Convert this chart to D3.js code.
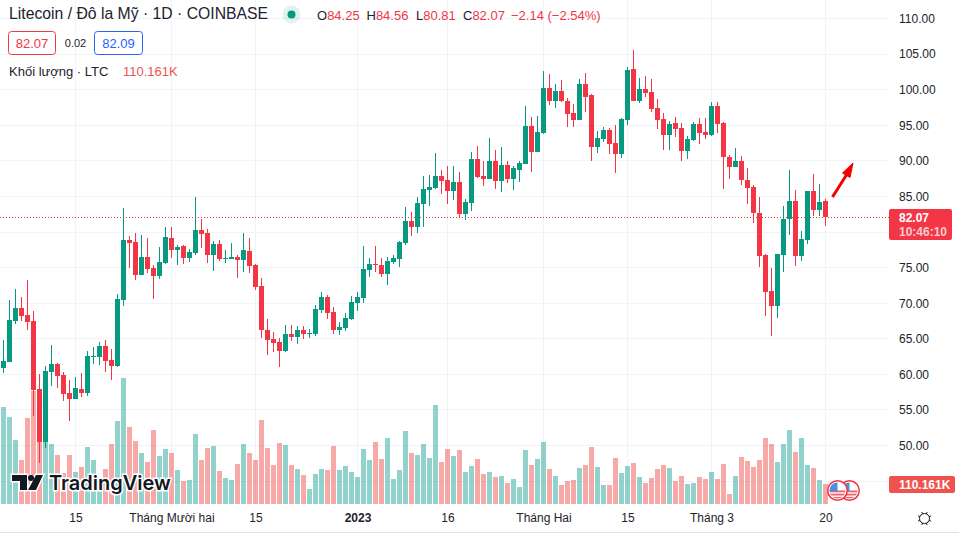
<!DOCTYPE html>
<html><head><meta charset="utf-8">
<script src="https://cdnjs.cloudflare.com/ajax/libs/d3/7.8.5/d3.min.js"></script>
<style>html,body{margin:0;padding:0;background:#fff}svg{display:block}text{font-family:"Liberation Sans",Arial,sans-serif}</style>
</head><body><svg id="c" width="959" height="533"></svg>
<script>
const opens=[60.84,61.68,67.44,69.27,68.29,67.44,57.89,50.44,60.27,61.40,
59.85,57.32,56.48,57.89,57.32,62.38,62.38,63.93,61.96,61.12,
70.39,78.82,78.54,73.90,76.43,74.89,73.76,75.59,79.10,77.42,
77.98,76.29,76.99,80.23,79.80,76.71,78.26,76.15,76.15,76.43,
76.01,77.28,75.31,72.36,66.18,64.91,64.49,63.23,65.61,65.19,
66.18,65.61,65.61,68.99,70.81,68.70,66.18,66.46,67.72,69.97,
70.67,74.61,75.45,75.31,74.04,75.73,76.15,78.40,81.49,80.65,
83.88,85.85,86.13,87.81,87.25,85.71,86.97,82.47,84.02,90.20,
87.81,87.39,89.92,87.11,89.36,87.39,88.66,89.50,94.84,91.18,
93.85,100.18,98.35,99.75,98.35,96.66,95.68,100.74,99.19,91.89,
93.01,94.27,92.45,90.90,95.68,102.84,98.35,100.04,99.61,97.37,
95.82,93.57,95.26,94.56,91.33,92.87,95.12,93.99,93.57,97.65,
95.26,90.48,89.08,89.92,87.25,86.27,82.61,76.71,71.65,69.55,
76.71,81.77,84.30,76.57,78.82,85.70,83.04,84.25];
const highs=[64.77,70.39,71.94,70.81,73.20,68.85,59.99,61.12,64.07,61.54,
60.27,59.15,59.57,60.13,63.23,63.79,64.49,64.77,63.51,71.23,
83.32,79.38,79.80,79.52,79.10,75.31,77.84,80.65,80.65,78.12,
78.12,77.56,84.86,81.77,80.37,78.68,78.82,77.42,78.40,76.71,
79.80,79.10,75.45,73.48,67.72,65.89,65.05,66.88,66.88,66.74,
66.74,66.31,69.69,71.51,71.09,69.41,67.30,68.56,70.95,71.51,
77.98,76.29,77.98,76.29,76.43,76.71,78.68,83.46,82.75,84.86,
87.81,87.95,91.04,88.66,89.22,89.22,88.37,84.58,91.18,92.03,
89.92,93.15,91.47,91.89,89.92,89.22,89.92,97.65,96.10,96.24,
102.56,102.14,100.74,101.30,98.77,97.93,101.44,102.28,99.33,94.13,
94.70,94.56,94.98,95.96,103.13,105.51,101.58,101.86,101.44,98.63,
96.66,95.54,96.10,95.26,93.43,95.40,95.96,95.96,98.21,98.21,
95.40,90.76,91.75,90.62,88.94,86.55,84.86,76.85,74.89,76.85,
83.60,88.66,85.85,80.08,85.70,88.09,86.69,84.56];
const lows=[60.14,61.68,67.02,67.44,66.18,54.10,47.49,49.60,58.31,58.03,
56.20,53.39,56.48,56.76,56.90,61.40,61.26,60.27,59.15,60.98,
69.55,74.89,73.20,73.90,74.19,70.53,73.34,75.45,76.29,75.31,
75.45,75.73,76.71,77.70,75.59,74.47,75.87,75.59,76.15,73.48,
74.33,74.19,71.80,65.05,62.66,63.09,60.98,63.09,64.63,64.21,
64.91,65.05,65.33,68.56,67.72,65.61,65.47,66.03,67.58,68.84,
69.97,73.62,74.33,73.62,72.50,75.45,75.03,78.12,79.38,79.80,
80.65,83.60,85.99,85.28,83.88,84.44,81.91,81.63,82.89,87.53,
86.41,87.39,85.99,85.56,86.83,85.85,86.97,89.50,88.37,91.18,
93.71,97.79,97.37,98.21,94.70,94.70,95.68,96.80,89.92,91.04,
92.59,90.90,88.23,90.34,94.98,98.35,98.07,98.91,96.80,94.41,
91.47,91.47,93.29,89.92,90.20,92.73,92.31,93.01,93.43,93.85,
85.99,87.39,89.08,86.55,83.88,81.21,75.03,68.14,65.33,67.86,
74.33,79.52,75.17,75.87,78.26,82.19,82.19,80.81];
const closes=[61.82,67.58,69.27,68.15,67.30,57.75,50.44,60.41,61.40,59.71,
57.18,56.48,58.03,57.32,62.52,62.52,63.93,61.82,61.12,70.53,
78.82,78.40,73.90,76.43,74.75,73.76,75.73,79.24,77.42,77.84,
76.29,77.14,80.23,79.66,76.71,78.26,76.15,76.29,76.43,76.01,
77.42,75.17,72.22,66.18,64.77,64.35,63.23,65.61,65.19,66.18,
65.61,65.75,69.13,70.81,68.56,66.18,66.60,67.86,70.11,70.81,
74.75,75.45,75.31,74.04,75.87,76.29,78.54,81.49,80.65,84.02,
85.99,86.27,87.81,87.11,85.71,86.97,82.47,84.16,90.20,87.67,
87.39,89.92,87.11,89.36,87.39,88.94,89.64,94.84,91.18,93.99,
100.18,98.35,99.75,98.35,96.52,95.68,100.74,98.91,91.89,93.15,
94.27,92.31,90.90,95.82,102.70,98.35,100.04,99.47,97.23,95.68,
93.57,95.12,94.41,91.33,93.01,95.12,93.85,93.57,97.65,95.12,
90.48,89.08,89.92,87.25,86.13,82.61,76.57,71.51,69.55,76.85,
81.77,84.30,76.57,78.96,85.70,83.04,84.16,82.07];
const volumes=[534,479,353,242,474,622,397,353,330,270,171,270,176,204,314,242,132,193,330,457,
694,424,347,281,231,408,264,303,281,187,127,132,386,242,308,319,182,143,132,220,
330,281,242,463,308,215,336,325,215,193,160,83,165,193,187,319,187,209,176,149,
303,242,341,248,364,138,187,402,281,270,330,253,545,231,303,264,297,176,209,248,
165,176,149,154,116,138,94,297,215,248,341,193,154,105,127,132,198,215,314,204,
105,105,253,171,209,226,149,116,143,193,215,198,127,154,110,116,149,138,176,138,
220,55,154,259,237,204,242,364,330,231,330,408,286,364,215,198,132,110.161];
const priceTicks=[110,105,100,95,90,85,80,75,70,65,60,55,50];
const gridOnly=[45];
const timeTickIdx=[12,28,42,59,74,90,104,118,137];
const timeTickLabels=["15","Tháng Mười hai","15","2023","16","Tháng Hai","15","Tháng 3","20"];
const titleText="Litecoin / Đô la Mỹ · 1D · COINBASE";
const lastPrice=82.07, lastVolume=110.161;

const UP="#089981",DOWN="#F23645",VUP="#26a69a",VDOWN="#ef5350",TXT="#1e222d";
const PLOT_R=889,PLOT_B=504;
const svg=d3.select("#c");
const x=d3.scaleLinear().domain([0,137]).range([3.5,825.5]);
const y=d3.scaleLinear().domain([110,50]).range([18,445]);
const v=d3.scaleLinear().domain([0,lastVolume]).range([504,484]);
const idx=d3.range(opens.length);

// grid
const grid=svg.append("g").attr("shape-rendering","crispEdges").attr("stroke","#f0f3fa").attr("stroke-width",1);
grid.selectAll(".h").data(priceTicks.concat(gridOnly)).join("line")
 .attr("x1",0).attr("x2",PLOT_R).attr("y1",d=>Math.round(y(d))+.5).attr("y2",d=>Math.round(y(d))+.5);
grid.selectAll(".v").data(timeTickIdx).join("line")
 .attr("x1",d=>Math.floor(x(d))+.5).attr("x2",d=>Math.floor(x(d))+.5).attr("y1",0).attr("y2",PLOT_B);

// volume
svg.append("g").attr("shape-rendering","crispEdges").selectAll("rect").data(idx).join("rect")
 .attr("x",i=>x(i)-2.5).attr("width",5)
 .attr("y",i=>Math.round(v(volumes[i]))).attr("height",i=>PLOT_B-Math.round(v(volumes[i])))
 .attr("fill",i=>closes[i]>=opens[i]?VUP:VDOWN).attr("fill-opacity",.5);

// logo
const lg=svg.append("g");
lg.append("path").attr("d","M12 475H27V490H20V481H12Z M36 475H43L36 490H28Z").attr("fill","#131722").attr("stroke","#fff").attr("stroke-width",3).attr("paint-order","stroke");
lg.append("circle").attr("cx",31).attr("cy",478).attr("r",3).attr("fill","#131722");
lg.append("text").attr("x",49).attr("y",490).attr("font-size",20).attr("style",'font-family:Inter,Roboto,sans-serif;font-weight:600').attr("fill","#131722").attr("stroke","#fff").attr("stroke-width",3).attr("paint-order","stroke").text("TradingView");

// last price dotted line
svg.append("line").attr("x1",0).attr("x2",PLOT_R).attr("y1",Math.round(y(lastPrice))+.5).attr("y2",Math.round(y(lastPrice))+.5)
 .attr("stroke",DOWN).attr("stroke-dasharray","1 2");

// candles
const cg=svg.append("g").attr("shape-rendering","crispEdges");
cg.selectAll(".w").data(idx).join("rect").attr("x",i=>x(i)-.5).attr("width",1)
 .attr("y",i=>Math.round(y(highs[i]))).attr("height",i=>Math.max(1,Math.round(y(lows[i]))-Math.round(y(highs[i]))))
 .attr("fill",i=>closes[i]>=opens[i]?UP:DOWN);
cg.selectAll(".b").data(idx).join("rect").attr("x",i=>x(i)-2.5).attr("width",5)
 .attr("y",i=>Math.round(y(Math.max(opens[i],closes[i]))))
 .attr("height",i=>Math.max(1,Math.round(y(Math.min(opens[i],closes[i])))-Math.round(y(Math.max(opens[i],closes[i])))))
 .attr("fill",i=>closes[i]>=opens[i]?UP:DOWN);

// arrow
svg.append("line").attr("x1",832.5).attr("y1",197).attr("x2",847).attr("y2",174).attr("stroke","#f40000").attr("stroke-width",3);
svg.append("path").attr("d","M853 163L842.5 173L850 177.5Z").attr("fill","#f40000").attr("stroke","#f40000");

// flags
const defs=svg.append("defs");
[{cx:849.5,id:"f2"},{cx:837.5,id:"f1"}].forEach(f=>{
 defs.append("clipPath").attr("id",f.id).append("circle").attr("cx",f.cx).attr("cy",490.5).attr("r",8);
 const g=svg.append("g");
 g.append("circle").attr("cx",f.cx).attr("cy",490.5).attr("r",10.5).attr("fill","#f23645");
 g.append("circle").attr("cx",f.cx).attr("cy",490.5).attr("r",9).attr("fill","#fff");
 const c=g.append("g").attr("clip-path",`url(#${f.id})`);
 c.append("rect").attr("x",f.cx-9).attr("y",482).attr("width",18).attr("height",18).attr("fill","#fff");
 d3.range(3).forEach(k=>c.append("rect").attr("x",f.cx-9).attr("y",490.5+k*3.2).attr("width",18).attr("height",1.8).attr("fill","#f0606a"));
 c.append("rect").attr("x",f.cx-9).attr("y",482).attr("width",9).attr("height",9.5).attr("fill","#4a90e2");
});

// axis gutter: price labels
const yAxis=d3.axisRight(y).tickValues(priceTicks).tickSize(0).tickPadding(0).tickFormat(d3.format(".2f"));
const ya=svg.append("g").attr("transform","translate(899,0.5)").call(yAxis);
ya.select(".domain").remove();
ya.selectAll("text").attr("font-size",12).attr("fill",TXT).style("font-family",'"Liberation Sans",Arial,sans-serif').attr("x",0);

// last price tag
svg.append("rect").attr("x",889).attr("y",209).attr("width",63).attr("height",31).attr("rx",2).attr("fill",DOWN);
svg.append("text").attr("x",899).attr("y",221.5).attr("font-size",12).attr("font-weight",700).attr("fill","#fff").text(d3.format(".2f")(lastPrice));
svg.append("text").attr("x",899).attr("y",236).attr("font-size",12).attr("font-weight",700).attr("fill","#fff").attr("fill-opacity",.75).text("10:46:10");

// volume tag
svg.append("rect").attr("x",889).attr("y",476).attr("width",66).attr("height",17).attr("rx",2).attr("fill",VDOWN);
svg.append("text").attr("x",899).attr("y",489).attr("font-size",12).attr("font-weight",700).attr("fill","#fff").text(lastVolume+"K");

// time axis
const xAxis=d3.axisBottom(x).tickValues(timeTickIdx).tickSize(0).tickPadding(0).tickFormat((d,i)=>timeTickLabels[i]);
const xa=svg.append("g").attr("transform","translate(0,513)").call(xAxis);
xa.select(".domain").remove();
xa.selectAll("text").attr("font-size",12).attr("fill",TXT).attr("dy","0.71em").attr("y",0)
 .style("font-family",'"Liberation Sans",Arial,sans-serif')
 .attr("font-weight",(d,i)=>timeTickLabels[i]==="2023"?700:400);

// settings icon
const gear=svg.append("g").attr("transform","translate(924.5,518.5)").attr("fill","none").attr("stroke","#131722").attr("stroke-width",1);
gear.append("circle").attr("r",5);
d3.range(8).forEach(k=>{const a=k*Math.PI/4+Math.PI/8;gear.append("line").attr("x1",5*Math.cos(a)).attr("y1",5*Math.sin(a)).attr("x2",7*Math.cos(a)).attr("y2",7*Math.sin(a));});

// bottom border
svg.append("rect").attr("x",0).attr("y",532).attr("width",959).attr("height",1).attr("fill","#e0e3eb");

// legend
svg.append("text").attr("x",9).attr("y",19).attr("font-size",15.75).attr("fill",TXT).text(titleText);
svg.append("circle").attr("cx",291.5).attr("cy",14.5).attr("r",9).attr("fill",UP).attr("fill-opacity",.12);
svg.append("circle").attr("cx",291.5).attr("cy",14.5).attr("r",4).attr("fill",UP);
const ohlc=[[317,"O","84.25"],[366.5,"H","84.56"],[416,"L","80.81"],[463,"C","82.07"]];
ohlc.forEach(d=>{const t=svg.append("text").attr("x",d[0]).attr("y",19.5).attr("font-size",13);
 t.append("tspan").attr("fill",TXT).text(d[1]);
 t.append("tspan").attr("fill",DOWN).text(d[2]);});
svg.append("text").attr("x",511).attr("y",19.5).attr("font-size",13).attr("fill",DOWN).text("−2.14 (−2.54%)");

svg.append("rect").attr("x",8.5).attr("y",31.5).attr("width",47).attr("height",23).attr("rx",3).attr("fill","#fff").attr("stroke",DOWN);
svg.append("text").attr("x",32).attr("y",48).attr("text-anchor","middle").attr("font-size",13).attr("fill",DOWN).text("82.07");
svg.append("text").attr("x",75.5).attr("y",47).attr("text-anchor","middle").attr("font-size",11).attr("fill",TXT).text("0.02");
svg.append("rect").attr("x",94.5).attr("y",31.5).attr("width",48).attr("height",23).attr("rx",3).attr("fill","#fff").attr("stroke","#2962ff");
svg.append("text").attr("x",118.5).attr("y",48).attr("text-anchor","middle").attr("font-size",13).attr("fill","#2962ff").text("82.09");
svg.append("text").attr("x",9).attr("y",76).attr("font-size",13).attr("fill",TXT).text("Khối lượng · LTC");
svg.append("text").attr("x",123).attr("y",76).attr("font-size",13).attr("fill",VDOWN).text(lastVolume+"K");
</script></body></html>
